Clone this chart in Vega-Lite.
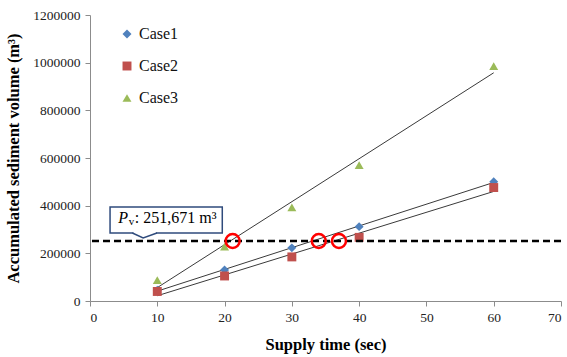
{
  "$schema": "https://vega.github.io/schema/vega-lite/v6.json",
  "width": 471,
  "height": 286,
  "autosize": {"type": "none"},
  "padding": {"left": 90, "top": 15, "right": 6, "bottom": 56},
  "background": "white",
  "config": {
    "view": {"stroke": null},
    "font": "Liberation Serif",
    "axis": {
      "grid": false,
      "domainColor": "#8c8c8c",
      "tickColor": "#8c8c8c",
      "tickSize": 5,
      "labelFont": "Liberation Serif",
      "labelFontSize": 13.5,
      "labelColor": "#222222",
      "titleFont": "Liberation Serif",
      "titleFontSize": 16.5,
      "titleFontWeight": "bold",
      "titleColor": "#000000"
    }
  },
  "datasets": {
    "obs": [
      {"time": 10, "volume": 45000, "case": "Case1"},
      {"time": 20, "volume": 130000, "case": "Case1"},
      {"time": 30, "volume": 223000, "case": "Case1"},
      {"time": 40, "volume": 312000, "case": "Case1"},
      {"time": 60, "volume": 500000, "case": "Case1"},
      {"time": 10, "volume": 40000, "case": "Case2"},
      {"time": 20, "volume": 105000, "case": "Case2"},
      {"time": 30, "volume": 185000, "case": "Case2"},
      {"time": 40, "volume": 267000, "case": "Case2"},
      {"time": 60, "volume": 476000, "case": "Case2"},
      {"time": 10, "volume": 88000, "case": "Case3"},
      {"time": 20, "volume": 228000, "case": "Case3"},
      {"time": 30, "volume": 393000, "case": "Case3"},
      {"time": 40, "volume": 570000, "case": "Case3"},
      {"time": 60, "volume": 985000, "case": "Case3"}
    ],
    "crossings": [
      {"time": 21.2, "volume": 251671},
      {"time": 34.0, "volume": 251671},
      {"time": 37.0, "volume": 251671}
    ],
    "box": [
      {"x1": 2.98, "x2": 19.66, "y1": 285300, "y2": 394400}
    ],
    "notch": [
      {"x": 6.3, "y": 285300, "o": 1},
      {"x": 7.9, "y": 264300, "o": 2},
      {"x": 9.95, "y": 285300, "o": 3}
    ],
    "gap": [
      {"x1": 6.45, "x2": 9.8, "y": 285300}
    ]
  },
  "layer": [
    {
      "data": {"name": "obs"},
      "transform": [
        {"regression": "volume", "on": "time", "groupby": ["case"], "method": "linear"}
      ],
      "mark": {"type": "line", "color": "#3a3a3a", "strokeWidth": 1},
      "encoding": {
        "x": {
          "field": "time", "type": "quantitative",
          "scale": {"domain": [0, 70], "nice": false},
          "axis": {"values": [0, 10, 20, 30, 40, 50, 60, 70], "title": "Supply  time (sec)", "titlePadding": 13, "labelPadding": 4}
        },
        "y": {
          "field": "volume", "type": "quantitative",
          "scale": {"domain": [0, 1200000], "nice": false},
          "axis": {"values": [0, 200000, 400000, 600000, 800000, 1000000, 1200000], "format": "d", "title": "Accumulated  sediment volume (m³)", "titlePadding": 11, "labelPadding": 5}
        },
        "detail": {"field": "case"}
      }
    },
    {
      "data": {"name": "obs"},
      "mark": {"type": "point", "filled": true, "opacity": 1, "size": 80},
      "encoding": {
        "x": {"field": "time", "type": "quantitative"},
        "y": {"field": "volume", "type": "quantitative"},
        "color": {
          "field": "case", "type": "nominal",
          "scale": {"domain": ["Case1", "Case2", "Case3"], "range": ["#4F81BD", "#C0504D", "#9BBB59"]},
          "legend": {
            "title": null, "orient": "none", "legendX": 29, "legendY": 11,
            "labelFont": "Liberation Serif", "labelFontSize": 16, "labelColor": "#111111",
            "rowPadding": 16, "symbolSize": 80, "padding": 0, "labelOffset": 4
          }
        },
        "shape": {
          "field": "case", "type": "nominal",
          "scale": {"domain": ["Case1", "Case2", "Case3"], "range": ["diamond", "square", "triangle-up"]}
        }
      }
    },
    {
      "data": {"values": [{}]},
      "mark": {"type": "rule", "color": "#000000", "strokeWidth": 2.5, "strokeDash": [7, 4]},
      "encoding": {"y": {"datum": 251671}}
    },
    {
      "data": {"name": "crossings"},
      "mark": {"type": "point", "shape": "circle", "filled": false, "stroke": "#ff0000", "strokeWidth": 2.5, "size": 196, "opacity": 1},
      "encoding": {
        "x": {"field": "time", "type": "quantitative"},
        "y": {"field": "volume", "type": "quantitative"}
      }
    },
    {
      "data": {"name": "box"},
      "mark": {"type": "rect", "fill": "white", "stroke": "#2f4b7c", "strokeWidth": 1.5},
      "encoding": {
        "x": {"field": "x1", "type": "quantitative"},
        "x2": {"field": "x2"},
        "y": {"field": "y1", "type": "quantitative"},
        "y2": {"field": "y2"}
      }
    },
    {
      "data": {"name": "gap"},
      "mark": {"type": "rule", "color": "white", "strokeWidth": 2.5},
      "encoding": {
        "x": {"field": "x1", "type": "quantitative"},
        "x2": {"field": "x2"},
        "y": {"field": "y", "type": "quantitative"}
      }
    },
    {
      "data": {"name": "notch"},
      "mark": {"type": "line", "color": "#2f4b7c", "strokeWidth": 1.5},
      "encoding": {
        "x": {"field": "x", "type": "quantitative"},
        "y": {"field": "y", "type": "quantitative"},
        "order": {"field": "o"}
      }
    },
    {
      "data": {"values": [{"x": 4.2, "y": 328000, "t": "P"}]},
      "mark": {"type": "text", "font": "Liberation Serif", "fontSize": 16, "fontStyle": "italic", "align": "left", "baseline": "alphabetic", "color": "#000000"},
      "encoding": {
        "x": {"field": "x", "type": "quantitative"},
        "y": {"field": "y", "type": "quantitative"},
        "text": {"field": "t"}
      }
    },
    {
      "data": {"values": [{"x": 5.75, "y": 317000, "t": "v"}]},
      "mark": {"type": "text", "font": "Liberation Serif", "fontSize": 11, "align": "left", "baseline": "alphabetic", "color": "#000000"},
      "encoding": {
        "x": {"field": "x", "type": "quantitative"},
        "y": {"field": "y", "type": "quantitative"},
        "text": {"field": "t"}
      }
    },
    {
      "data": {"values": [{"x": 6.65, "y": 328000, "t": ": 251,671 m³"}]},
      "mark": {"type": "text", "font": "Liberation Serif", "fontSize": 16, "align": "left", "baseline": "alphabetic", "color": "#000000"},
      "encoding": {
        "x": {"field": "x", "type": "quantitative"},
        "y": {"field": "y", "type": "quantitative"},
        "text": {"field": "t"}
      }
    }
  ]
}
